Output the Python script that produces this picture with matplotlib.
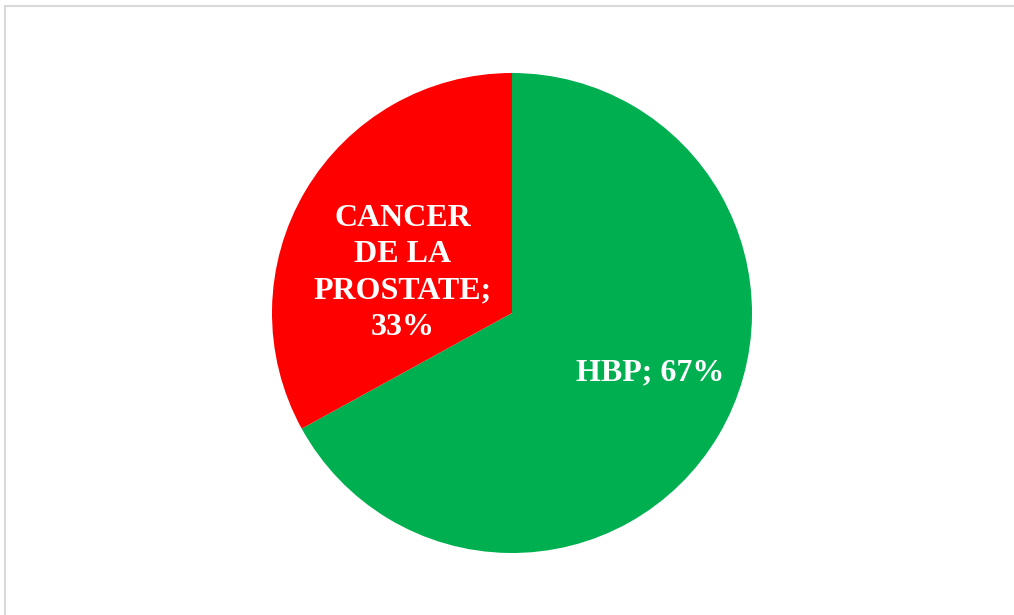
import matplotlib
matplotlib.use("Agg")
import matplotlib.pyplot as plt
from matplotlib.patches import Rectangle

# share of cases by diagnosis
categories = ["HBP", "CANCER\nDE LA\nPROSTATE"]
shares = [67, 33]
colors = ["#00B050", "#FF0000"]

W, H = 1014, 615
fig = plt.figure(figsize=(W / 100, H / 100), dpi=100)
ax = fig.add_axes([0, 0, 1, 1])

# thin grey chart-area frame (left and top edges visible)
fig.patches.append(Rectangle((4.5 / W, -0.1), 1.2, 1.1 - 5.5 / H,
                             transform=fig.transFigure, fill=False,
                             edgecolor="#D9D9D9", linewidth=1.5))

cx, cy, r = 512, H - 313, 240
ax.pie(shares, colors=colors, startangle=90, counterclock=False,
       center=(cx, cy), radius=r, frame=True,
       wedgeprops=dict(linewidth=0))
ax.set_xlim(0, W)
ax.set_ylim(0, H)
ax.set_aspect("equal")
ax.axis("off")

lbl_pos = [(650, H - 373), (403, H - 273)]
for cat, val, (x, y) in zip(categories, shares, lbl_pos):
    txt = f"{cat}; {val}%" if "\n" not in cat else f"{cat};\n{val}%"
    ax.text(x, y, txt, ha="center", va="center", color="white",
            fontsize=23, fontweight="bold", family="Liberation Serif",
            linespacing=1.34)

fig.savefig("out.png", dpi=100)
